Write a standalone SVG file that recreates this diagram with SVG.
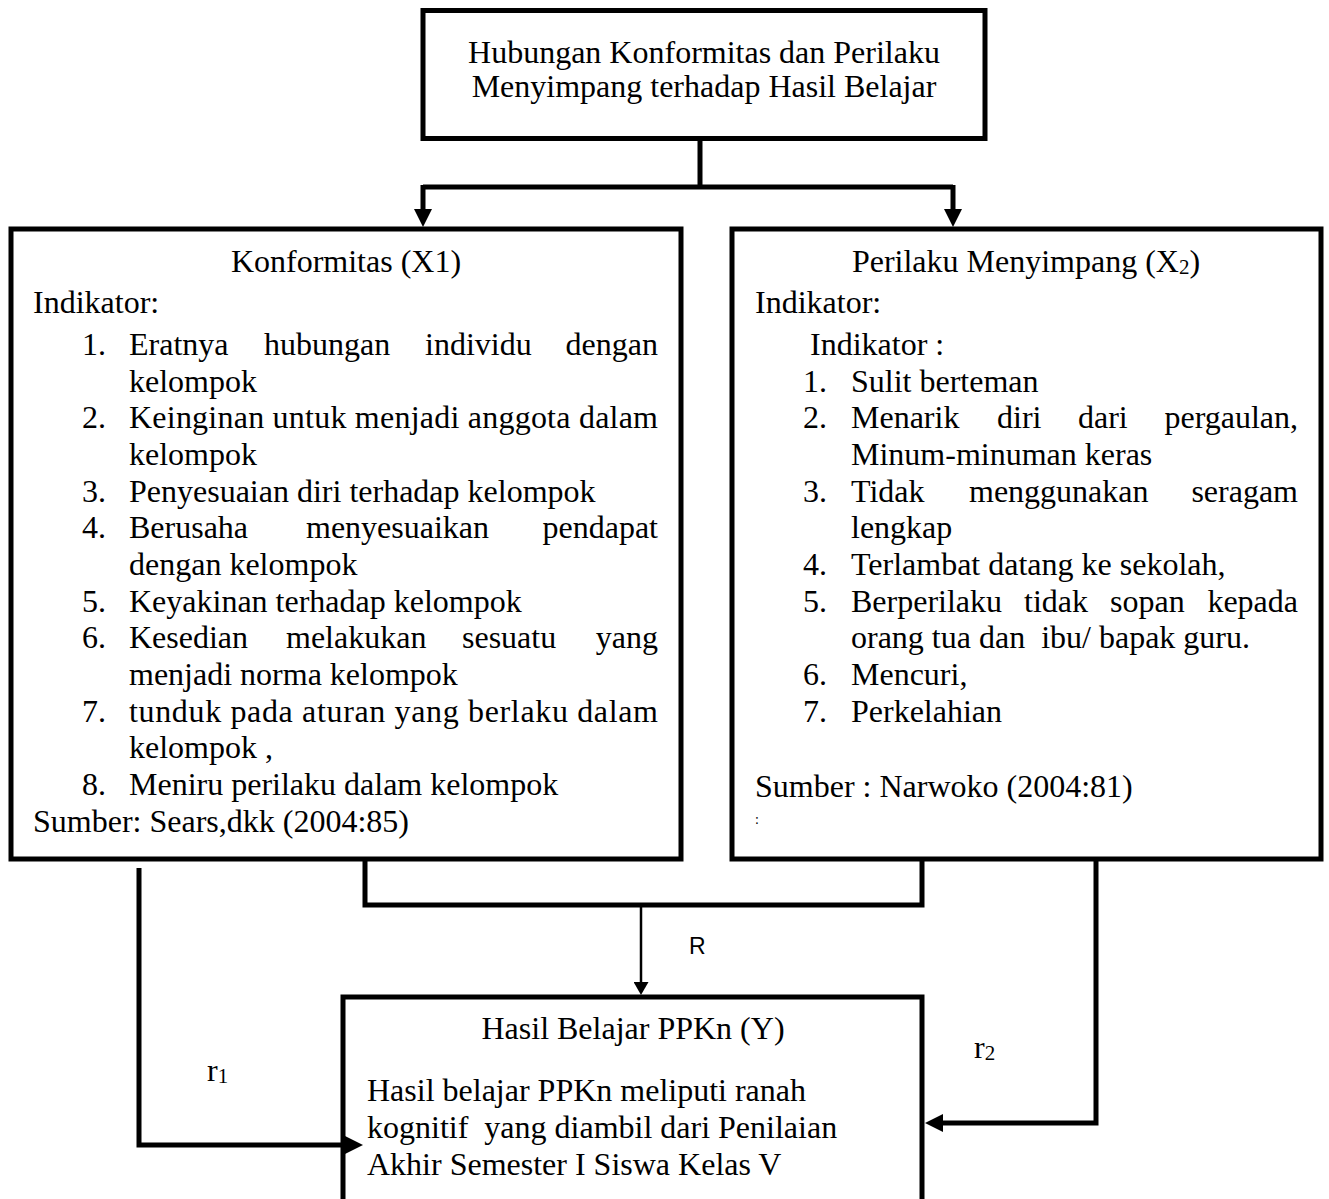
<svg xmlns="http://www.w3.org/2000/svg" width="1329" height="1199" viewBox="0 0 1329 1199">
<style>
.box{fill:#fff;stroke:#000;stroke-width:5}
.t{font-family:"Liberation Serif","Times New Roman",serif;font-size:32px;fill:#000;white-space:pre}
.c{text-anchor:middle}
.e{text-anchor:end}
.sub{font-size:21px}
.con{fill:none;stroke:#000;stroke-width:5;stroke-linejoin:miter}
.thin{fill:none;stroke:#000;stroke-width:2.5}
.sans{font-family:"Liberation Sans",Arial,sans-serif;font-size:23px;fill:#000}
</style>
<defs>
<marker id="ah" markerUnits="userSpaceOnUse" viewBox="0 0 18 18" refX="0" refY="9" markerWidth="18" markerHeight="18" orient="auto"><path d="M0,0 L18,9 L0,18 z" fill="#000"/></marker>
<marker id="ahs" markerUnits="userSpaceOnUse" viewBox="0 0 13 15" refX="0" refY="7.5" markerWidth="13" markerHeight="15" orient="auto"><path d="M0,0 L13,7.5 L0,15 z" fill="#000"/></marker>
</defs>
<rect width="1329" height="1199" fill="#fff"/>

<g id="node-top">
<rect class="box" x="423" y="10.5" width="562" height="128"/>
<text class="t c" x="704" y="63">Hubungan Konformitas dan Perilaku</text>
<text class="t c" x="704" y="97">Menyimpang terhadap Hasil Belajar</text>
</g>

<g id="node-x1">
<rect class="box" x="11" y="229" width="670" height="630"/>
<text class="t c" x="346" y="272">Konformitas (X1)</text>
<text class="t" x="33" y="313">Indikator:</text>
<text class="t" x="82" y="355">1.</text>
<text class="t" y="355"><tspan x="129">Eratnya</tspan><tspan x="264">hubungan</tspan><tspan x="425">individu</tspan></text>
<text class="t e" x="658" y="355">dengan</text>
<text class="t" x="129" y="392">kelompok</text>
<text class="t" x="82" y="428">2.</text>
<text class="t" x="129" y="428" textLength="529" lengthAdjust="spacing">Keinginan untuk menjadi anggota dalam</text>
<text class="t" x="129" y="465">kelompok</text>
<text class="t" x="82" y="502">3.</text>
<text class="t" x="129" y="502">Penyesuaian diri terhadap kelompok</text>
<text class="t" x="82" y="538">4.</text>
<text class="t" y="538"><tspan x="129">Berusaha</tspan><tspan x="306">menyesuaikan</tspan></text>
<text class="t e" x="658" y="538">pendapat</text>
<text class="t" x="129" y="575">dengan kelompok</text>
<text class="t" x="82" y="612">5.</text>
<text class="t" x="129" y="612">Keyakinan terhadap kelompok</text>
<text class="t" x="82" y="648">6.</text>
<text class="t" y="648"><tspan x="129">Kesedian</tspan><tspan x="286">melakukan</tspan><tspan x="462">sesuatu</tspan></text>
<text class="t e" x="658" y="648">yang</text>
<text class="t" x="129" y="685">menjadi norma kelompok</text>
<text class="t" x="82" y="722">7.</text>
<text class="t" x="129" y="722" textLength="529" lengthAdjust="spacing">tunduk pada aturan yang berlaku dalam</text>
<text class="t" x="129" y="758">kelompok ,</text>
<text class="t" x="82" y="795">8.</text>
<text class="t" x="129" y="795">Meniru perilaku dalam kelompok</text>
<text class="t" x="33" y="832">Sumber: Sears,dkk (2004:85)</text>
</g>

<g id="node-x2">
<rect class="box" x="732" y="229" width="589" height="630"/>
<text class="t c" x="1026" y="272">Perilaku Menyimpang (X<tspan class="sub" dy="2">2</tspan><tspan dy="-2">)</tspan></text>
<text class="t" x="755" y="313">Indikator:</text>
<text class="t" x="810" y="355">Indikator :</text>
<text class="t" x="803" y="392">1.</text>
<text class="t" x="851" y="392">Sulit berteman</text>
<text class="t" x="803" y="428">2.</text>
<text class="t" y="428"><tspan x="851">Menarik</tspan><tspan x="997">diri</tspan><tspan x="1078">dari</tspan></text>
<text class="t e" x="1298" y="428">pergaulan,</text>
<text class="t" x="851" y="465">Minum-minuman keras</text>
<text class="t" x="803" y="502">3.</text>
<text class="t" y="502"><tspan x="851">Tidak</tspan><tspan x="969">menggunakan</tspan></text>
<text class="t e" x="1298" y="502">seragam</text>
<text class="t" x="851" y="538">lengkap</text>
<text class="t" x="803" y="575">4.</text>
<text class="t" x="851" y="575">Terlambat datang ke sekolah,</text>
<text class="t" x="803" y="612">5.</text>
<text class="t" y="612"><tspan x="851">Berperilaku</tspan><tspan x="1024">tidak</tspan><tspan x="1110">sopan</tspan></text>
<text class="t e" x="1298" y="612">kepada</text>
<text class="t" x="851" y="648">orang tua dan  ibu/ bapak guru.</text>
<text class="t" x="803" y="685">6.</text>
<text class="t" x="851" y="685">Mencuri,</text>
<text class="t" x="803" y="722">7.</text>
<text class="t" x="851" y="722">Perkelahian</text>
<text class="t" x="755" y="797">Sumber : Narwoko (2004:81)</text>
<text class="t" x="755" y="824" style="font-size:14px">:</text>
</g>

<g id="node-y">
<rect class="box" x="343" y="997" width="579" height="260"/>
<text class="t c" x="633" y="1039">Hasil Belajar PPKn (Y)</text>
<text class="t" x="367" y="1101">Hasil belajar PPKn meliputi ranah</text>
<text class="t" x="367" y="1138">kognitif  yang diambil dari Penilaian</text>
<text class="t" x="367" y="1175">Akhir Semester I Siswa Kelas V</text>
</g>

<g id="connectors">
<path class="con" d="M700,141 V187"/>
<path class="con" d="M423,187 H953"/>
<path class="con" d="M423,185 V209" marker-end="url(#ah)"/>
<path class="con" d="M953,185 V209" marker-end="url(#ah)"/>
<path class="con" d="M365,860 V905 H922 V860"/>
<path class="thin" d="M641,905 V982" marker-end="url(#ahs)"/>
<path class="con" d="M139,868 V1145 H345" marker-end="url(#ah)"/>
<path class="con" d="M1096,860 V1123 H943" marker-end="url(#ah)"/>
</g>

<g id="labels">
<text class="sans" x="689" y="954">R</text>
<text class="t" x="207" y="1081">r<tspan class="sub" dy="2">1</tspan></text>
<text class="t" x="974" y="1058">r<tspan class="sub" dy="2">2</tspan></text>
</g>
</svg>
